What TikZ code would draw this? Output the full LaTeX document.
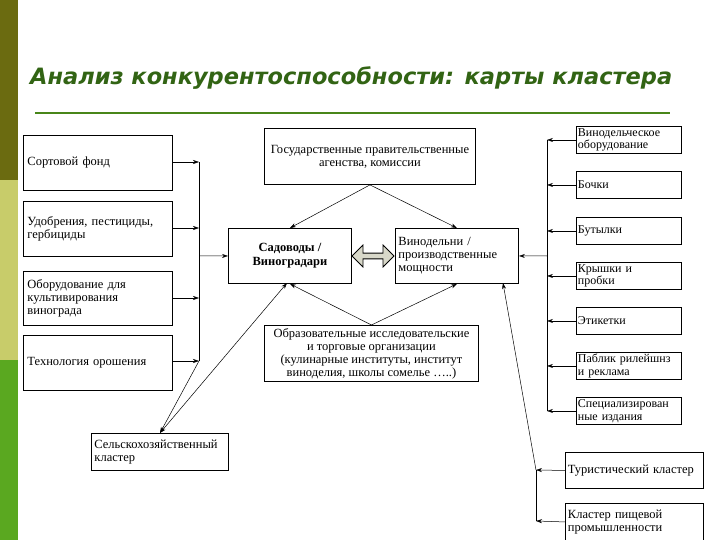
\documentclass[tikz,border=0pt]{standalone}
\usepackage{fontspec}
\setmainfont{Liberation Serif}
\newfontfamily\titlefont{DejaVu Sans}
\usetikzlibrary{arrows.meta,shapes.arrows}
\definecolor{barA}{RGB}{107,107,16}
\definecolor{barB}{RGB}{200,204,106}
\definecolor{barC}{RGB}{90,168,32}
\definecolor{ttl}{RGB}{50,100,20}
\begin{document}
\begin{tikzpicture}[x=1pt,y=-1pt,
 bx/.style={draw,line width=0.9pt,inner sep=3pt,font=\fontsize{12.5}{13}\selectfont},
 ar/.style={-{Stealth[length=6pt,width=4pt]},line width=0.5pt},
 ln/.style={line width=0.7pt}]
\useasboundingbox (0,0) rectangle (720,540);
\fill[white] (0,0) rectangle (720,540);
\fill[barA] (0,0) rectangle (18,180);
\fill[barB] (0,180) rectangle (18,360);
\fill[barC] (0,360) rectangle (18,540);
\node[font=\titlefont\bfseries\itshape\fontsize{22.5}{24}\selectfont,text=ttl,anchor=west,inner sep=0pt] (title) at (30,78) {Анализ конкурентоспособности: карты кластера};
\draw[barC!80!black,line width=1.2pt] (35,113) -- (670,113);
% left boxes
\newcommand{\lbox}[4]{\node[bx,minimum width=149pt,minimum height=#3pt,anchor=north west,align=left,text width=141pt] (#1) at (23,#2) {#4};}
\lbox{a1}{135}{55}{Сортовой фонд}
\lbox{a2}{201}{55}{Удобрения, пестициды,\\ гербициды}
\lbox{a3}{271}{54}{Оборудование для\\ культивирования\\ винограда}
\lbox{a4}{335}{55}{Технология орошения}
\coordinate (lt) at (199,162); \coordinate (lb) at (199,361);
\draw[ln] (lt) -- (lb);
\foreach \n/\y in {a1/162,a2/228,a3/298,a4/361}{\draw[ar] (\n.east|-0,\y) -- (199,\y);}
\node[bx,minimum width=123pt,minimum height=55pt,anchor=north west,align=center,font=\bfseries\fontsize{12.5}{14}\selectfont] (s) at (228,228) {Садоводы /\\ Виноградари};
\node[bx,minimum width=123pt,minimum height=55pt,anchor=north west,align=left,text width=117pt,inner sep=2pt] (v) at (395,228) {Винодельни /\\ производственные\\ мощности};
\draw[ar] (199,256) -- (s.west);
\node[double arrow,draw,line width=0.8pt,fill=barB!40!gray!40,minimum height=42pt,minimum width=22pt,double arrow head extend=4pt,inner sep=1pt] (da) at (373,256) {};
\node[bx,minimum width=211pt,minimum height=56pt,anchor=north west,align=center,inner sep=1pt] (g) at (264,128) {Государственные правительственные\\ агенства, комиссии};
\node[bx,minimum width=214pt,minimum height=56pt,anchor=north west,align=center,inner sep=1pt] (o) at (264,325) {Образовательные исследовательские\\ и торговые организации\\ (кулинарные институты, институт\\ виноделия, школы сомелье …..)};
\draw[ar] (g.south) -- (s.north); \draw[ar] (g.south) -- (v.north);
\draw[ar] (o.north) -- (s.south); \draw[ar] (o.north) -- (v.south);
\node[bx,minimum width=137pt,minimum height=37pt,anchor=north west,align=left,text width=131pt,inner sep=2pt] (k) at (91,433) {Сельскохозяйственный\\ кластер};
\draw[ar] (lb) -- (160,433);
\draw[{Stealth[length=6pt,width=4pt]}-{Stealth[length=6pt,width=4pt]},line width=0.5pt] (160,433) -- (287,283);
% right column
\newcommand{\rbox}[3]{\node[bx,minimum width=105pt,minimum height=27pt,anchor=north west,align=left,text width=102pt,inner sep=1.5pt,font=\fontsize{12}{12.5}\selectfont] (#1) at (576,#2) {#3};}
\rbox{b1}{126}{Винодельческое\\ оборудование}
\rbox{b2}{171}{Бочки}
\rbox{b3}{217}{Бутылки}
\rbox{b4}{262}{Крышки и\\ пробки}
\rbox{b5}{307}{Этикетки}
\rbox{b6}{352}{Паблик рилейшнз\\ и реклама}
\rbox{b7}{397}{Специализирован\\ ные издания}
\draw[ln] (547,140) -- (547,411);
\foreach \n in {b1,b2,b3,b4,b5,b6,b7}{\draw[ar] (\n.west) -- (\n.west-|547,0);}
\draw[ar] (547,256) -- (v.east);
\node[bx,minimum width=138pt,minimum height=36pt,anchor=north west,align=left,text width=133pt,inner sep=2pt] (t1) at (565,452) {Туристический кластер};
\node[bx,minimum width=138pt,minimum height=37pt,anchor=north west,align=left,text width=133pt,inner sep=2pt] (t2) at (565,503) {Кластер пищевой\\ промышленности};
\draw[ln] (536,470) -- (536,521);
\draw[ar] (t1.west) -- (536,470); \draw[ar] (t2.west) -- (536,521);
\draw[ar] (536,470) -- (503,283);
\end{tikzpicture}
\end{document}
